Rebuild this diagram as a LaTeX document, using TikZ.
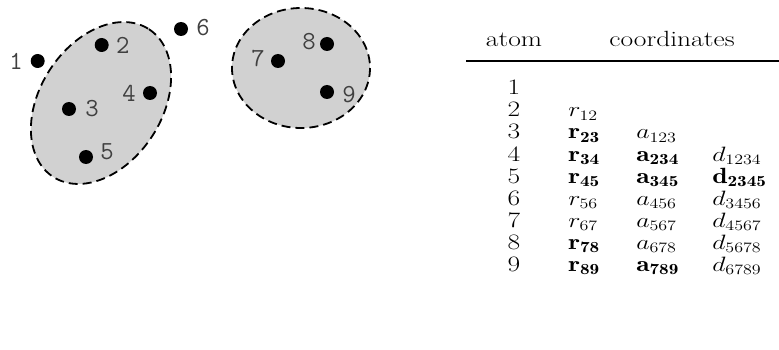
\documentclass[tikz,border=0pt]{standalone}
\usepackage{fontspec}
\usepackage{amsmath}
\begin{document}
\begin{tikzpicture}[x=1pt,y=-1pt,
  atomdot/.style={circle,fill=black,inner sep=0pt,minimum size=14pt},
  lbl/.style={font=\ttfamily\fontsize{26}{26}\selectfont,text=black!75,inner sep=0pt},
  blob/.style={draw=black,fill=black!18,line width=1.8pt,dash pattern=on 9pt off 5pt},
  cell/.style={font=\fontsize{22}{22}\selectfont,inner sep=0pt,anchor=base west,xscale=1.25,transform shape},
  numcell/.style={font=\fontsize{22}{22}\selectfont,inner sep=0pt,anchor=base,xscale=1.25,transform shape}]
\useasboundingbox (0,0) rectangle (779,350);
% groups
\draw[blob] (101,103) ellipse[x radius=88,y radius=61,rotate=57];
\draw[blob] (301,68) ellipse[x radius=69,y radius=60,rotate=0];
% atoms
\node[atomdot] (n1) at (37.7,61) {};
\node[atomdot] (n2) at (101.7,45) {};
\node[atomdot] (n3) at (69,109) {};
\node[atomdot] (n4) at (150,93) {};
\node[atomdot] (n5) at (86,157) {};
\node[atomdot] (n6) at (181,29) {};
\node[atomdot] (n7) at (278,61) {};
\node[atomdot] (n8) at (327,44) {};
\node[atomdot] (n9) at (327,92) {};
\node[lbl] (l1) at (16,61) {1};
\node[lbl] (l2) at (122.7,45) {2};
\node[lbl] (l3) at (92,109) {3};
\node[lbl] (l4) at (129,93) {4};
\node[lbl] (l5) at (107,152) {5};
\node[lbl] (l6) at (203,28) {6};
\node[lbl] (l7) at (258,59) {7};
\node[lbl] (l8) at (309,42) {8};
\node[lbl] (l9) at (349,95) {9};
% table
\node[numcell] (hatom) at (514,47) {atom};
\node[numcell] (hcoord) at (672,47) {coordinates};
\coordinate (rl) at (466,61);
\coordinate (rr) at (779,61);
\draw[line width=1.7pt] (rl) -- (rr);
\foreach \i/\r/\a/\d in {1/{}/{}/{},2/{$r_{12}$}/{}/{},3/{$\mathbf{r}_{\mathbf{23}}$}/{$a_{123}$}/{},
  4/{$\mathbf{r}_{\mathbf{34}}$}/{$\mathbf{a}_{\mathbf{234}}$}/{$d_{1234}$},
  5/{$\mathbf{r}_{\mathbf{45}}$}/{$\mathbf{a}_{\mathbf{345}}$}/{$\mathbf{d}_{\mathbf{2345}}$},
  6/{$r_{56}$}/{$a_{456}$}/{$d_{3456}$},
  7/{$r_{67}$}/{$a_{567}$}/{$d_{4567}$},
  8/{$\mathbf{r}_{\mathbf{78}}$}/{$a_{678}$}/{$d_{5678}$},
  9/{$\mathbf{r}_{\mathbf{89}}$}/{$\mathbf{a}_{\mathbf{789}}$}/{$d_{6789}$}}{
  \pgfmathsetmacro{\yy}{95+22*(\i-1)}
  \node[numcell] (num\i) at (514,\yy) {\i};
  \node[cell] (r\i) at (568,\yy) {\r};
  \node[cell] (a\i) at (636,\yy) {\a};
  \node[cell] (d\i) at (712,\yy) {\d};
}
\end{tikzpicture}
\end{document}
